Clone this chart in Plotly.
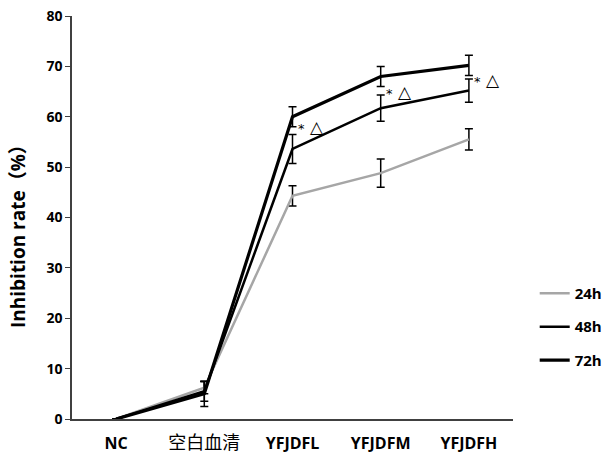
import plotly.graph_objects as go

categories = ["NC", "空白血清", "YFJDFL", "YFJDFM", "YFJDFH"]
tick_labels = ["<b>NC</b>", "<span style='font-size:18px'>空白血清</span>",
               "<b>YFJDFL</b>", "<b>YFJDFM</b>", "<b>YFJDFH</b>"]
series_names = ["24h", "48h", "72h"]
v24 = [0, 6.2, 44.3, 48.8, 55.5]
e24 = [0, 1.2, 2.0, 2.8, 2.1]
v48 = [0, 5.5, 53.6, 61.7, 65.2]
e48 = [0, 2.0, 2.9, 2.6, 2.3]
v72 = [0, 5.0, 60.0, 68.0, 70.2]
e72 = [0, 2.5, 2.0, 2.0, 2.0]
mark_idx = [2, 3, 4]
mark_y = [57.9, 64.9, 67.3]
mark_text = "<span style='font-size:13px'>*</span> △"
y_title = "Inhibition rate（%）"
yticks = [0, 10, 20, 30, 40, 50, 60, 70, 80]

colors = ["#a6a6a6", "#000000", "#000000"]
widths = [2.5, 2.5, 3.2]
vals = [v24, v48, v72]
errs = [e24, e48, e72]

fig = go.Figure()
for i, name in enumerate(series_names):
    fig.add_trace(go.Scatter(
        x=list(range(len(categories))), y=vals[i], name=name, mode="lines",
        line=dict(color=colors[i], width=widths[i]),
        error_y=dict(type="data", array=errs[i], visible=True, color="#000000",
                     thickness=1.5, width=4),
        legendgroup=name,
    ))

for xi, yv in zip(mark_idx, mark_y):
    fig.add_annotation(x=xi, y=yv, text=mark_text, showarrow=False,
                       xanchor="left", xshift=3,
                       font=dict(family="DejaVu Sans", size=17, color="#000000"))

fig.add_annotation(xref="paper", yref="paper", x=0, y=0.464, xshift=-54,
                   text=y_title, textangle=-90, showarrow=False,
                   xanchor="center", yanchor="middle",
                   font=dict(family="Open Sans, Noto Sans CJK SC", size=19,
                             weight="bold", color="#000000"))

fig.update_layout(
    width=609, height=454,
    margin=dict(l=72, r=96, t=16, b=35),
    paper_bgcolor="white", plot_bgcolor="white",
    font=dict(family="Open Sans", color="#000000"),
    showlegend=True,
    legend=dict(xref="container", yref="container", x=0.878, y=0.28,
                xanchor="left", yanchor="middle",
                font=dict(family="Open Sans", size=15, weight="bold"),
                tracegroupgap=11, itemwidth=30, bgcolor="rgba(0,0,0,0)"),
    xaxis=dict(
        range=[-0.5, 4.5], tickmode="array", automargin=False,
        tickvals=list(range(len(categories))), ticktext=tick_labels,
        showline=True, linecolor="#404040", linewidth=1.5,
        ticks="", showgrid=False, zeroline=False,
        tickfont=dict(family="Open Sans, Noto Sans CJK SC", size=16),
        ticklabelstandoff=9, ticklabeloverflow="allow",
    ),
    yaxis=dict(
        range=[0, 80], tickvals=yticks, automargin=False,
        showline=True, linecolor="#404040", linewidth=1.5,
        ticks="outside", ticklen=5, tickcolor="#404040", tickwidth=1.2,
        showgrid=False, zeroline=False, ticklabeloverflow="allow",
        tickfont=dict(family="Open Sans", size=14, weight="bold"),
    ),
)

fig.write_html("out.html", config={"displayModeBar": False},
               post_script="document.body.style.margin='0';document.body.style.overflow='hidden';")
